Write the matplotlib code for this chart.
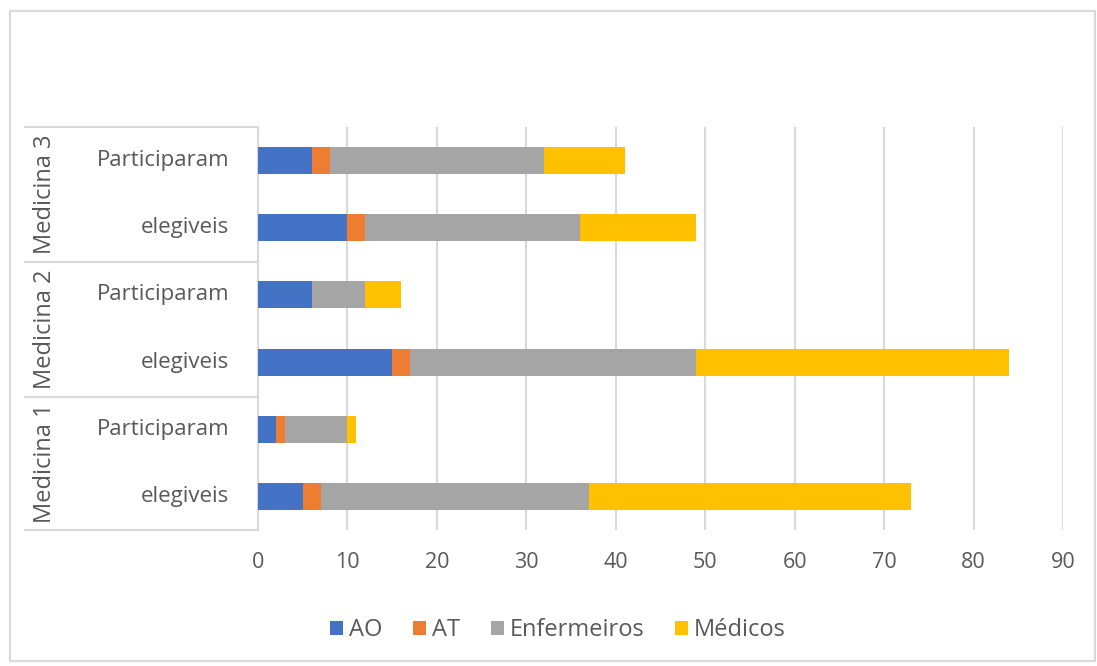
import matplotlib
matplotlib.use('Agg')
import matplotlib.pyplot as plt
from matplotlib.lines import Line2D
from matplotlib.patches import Rectangle
import numpy as np

plt.rcParams['font.family'] = ['Open Sans', 'DejaVu Sans']

# data, bottom row first
grupos = ['Medicina 1', 'Medicina 2', 'Medicina 3']
linhas = ['elegiveis', 'Participaram']
series = ['AO', 'AT', 'Enfermeiros', 'Médicos']
ao = [5, 2, 15, 6, 10, 6]
at = [2, 1, 2, 0, 2, 2]
enfermeiros = [30, 7, 32, 6, 24, 24]
medicos = [36, 1, 35, 4, 13, 9]
cores = ['#4472C4', '#ED7D31', '#A5A5A5', '#FFC000']
xticks = list(range(0, 100, 10))

W, H = 1097, 666
fig = plt.figure(figsize=(W / 100, H / 100), dpi=100)
ax = fig.add_axes([258 / W, 1 - 530 / H, (1063 - 258) / W, (530 - 127) / H])

y = np.arange(len(ao))
left = np.zeros(len(ao))
for vals, nome, cor in zip([ao, at, enfermeiros, medicos], series, cores):
    ax.barh(y, vals, left=left, height=0.4, color=cor, label=nome, zorder=3)
    left += np.array(vals)

ax.set_xlim(0, 90)
ax.set_ylim(-0.5, len(ao) - 0.5)
ax.set_xticks(xticks)
ax.set_yticks([])
ax.tick_params(axis='x', length=0, pad=16, labelsize=15.5, labelcolor='#595959')
ax.grid(axis='x', color='#d9d9d9', linewidth=1.5, zorder=0)
for s in ['top', 'right', 'bottom']:
    ax.spines[s].set_visible(False)
ax.spines['left'].set_color('#d9d9d9')
ax.spines['left'].set_linewidth(1.5)

# category labels
for i in range(len(ao)):
    ax.text(-3.2, i, linhas[i % 2], ha='right', va='center', fontsize=16,
            color='#595959', transform=ax.transData, clip_on=False)

# group labels and separators
tops = [127, 262, 397, 530]
for yy in tops:
    fig.add_artist(Line2D([25 / W, 258 / W], [1 - yy / H, 1 - yy / H],
                          color='#d9d9d9', linewidth=1.5))
for g, nome in enumerate(grupos):
    yc = 1 - (tops[3 - g] + tops[2 - g]) / 2 / H
    fig.text(45 / W, yc, nome, rotation=90, ha='center', va='center',
             fontsize=17, color='#595959')

fig.add_artist(Rectangle((10 / W, 1 - 661 / H), 1085 / W, 650 / H,
                         fill=False, edgecolor='#d9d9d9', linewidth=1.5))

leg = fig.legend(loc='center', bbox_to_anchor=(558 / W, 1 - 630 / H), ncol=4,
                 frameon=False, fontsize=17, handlelength=0.55, handleheight=0.55,
                 handletextpad=0.25, columnspacing=1.3)
for t in leg.get_texts():
    t.set_color('#595959')

fig.savefig('out.png', dpi=100)
